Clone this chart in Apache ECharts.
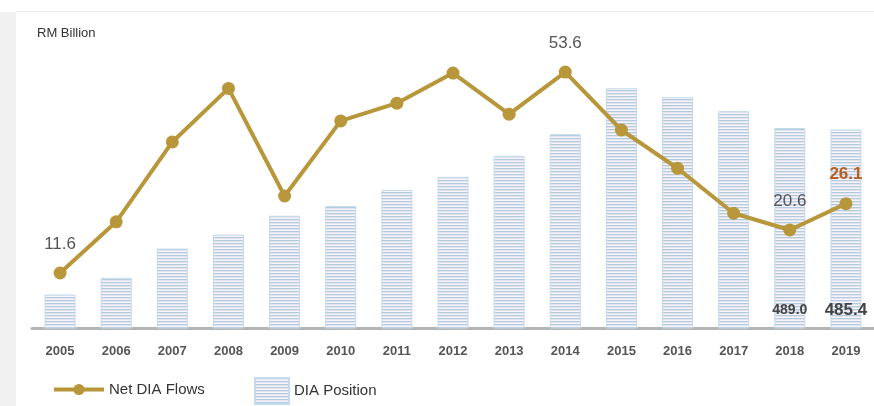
<!DOCTYPE html>
<html>
<head>
<meta charset="utf-8">
<script src="https://cdn.jsdelivr.net/npm/echarts@6/dist/echarts.min.js"></script>
<style>
  html, body { margin: 0; padding: 0; background: #fff; }
  #chart { width: 874px; height: 406px; }
</style>
</head>
<body>
<div id="chart"></div>
<script>
var years = ['2005', '2006', '2007', '2008', '2009', '2010', '2011', '2012', '2013', '2014', '2015', '2016', '2017', '2018', '2019'];
var netFlows = [11.6, 22.3, 39.0, 50.2, 27.7, 43.4, 47.1, 53.4, 44.8, 53.6, 41.5, 33.5, 24.1, 20.6, 26.1];
var position = [83, 124, 195, 229, 275, 299, 338, 370, 421, 474, 586, 564, 530, 489.0, 485.4];

// striped fill for the bars
function stripes() {
    var c = document.createElement('canvas');
    c.width = 4; c.height = 3;
    var ctx = c.getContext('2d');
    ctx.fillStyle = '#b3cbdf'; ctx.fillRect(0, 0, 4, 1);
    ctx.fillStyle = '#e3e4f0'; ctx.fillRect(0, 1, 4, 1);
    ctx.fillStyle = '#f7f5fa'; ctx.fillRect(0, 2, 4, 1);
    return c;
}

var lineLabelIdx = [0, 9, 13];
var lineData = netFlows.map(function (v, i) {
    var item = { value: v };
    if (lineLabelIdx.indexOf(i) >= 0) {
        item.label = { show: true };
    } else if (i === netFlows.length - 1) {
        item.label = { show: true, color: '#b85f22', fontWeight: 'bold', fontSize: 17 };
    }
    return item;
});
var barData = position.map(function (v, i) {
    var item = { value: v };
    if (i === position.length - 2) {
        item.label = { show: true, fontSize: 14, distance: 11 };
    } else if (i === position.length - 1) {
        item.label = { show: true, fontSize: 17, distance: 10 };
    }
    return item;
});

var myChart = echarts.init(document.getElementById('chart'));
var pattern = { image: stripes(), repeat: 'repeat' };
var option = {
    animation: false,
    graphic: [
        { type: 'rect', left: 0, top: 12, shape: { width: 16, height: 394 }, style: { fill: '#f1f1f1' }, z: -10 },
        { type: 'rect', left: 16, top: 11, shape: { width: 858, height: 1 }, style: { fill: '#ececec' }, z: -10 },
        { type: 'text', left: 37, top: 27, style: { text: 'RM Billion', fill: '#333', font: '13px Arial' } }
    ],
    grid: { left: 32, right: 0, top: 41.5, bottom: 77.5 },
    legend: [
        {
            data: ['Net DIA Flows'],
            left: 47, top: 377,
            itemWidth: 50, itemHeight: 14, itemGap: 8,
            lineStyle: { width: 4 },
            textStyle: { fontSize: 15, color: '#333', fontFamily: 'Arial' }
        },
        {
            data: [{ name: 'DIA Position', icon: 'rect' }],
            left: 249, top: 372,
            itemWidth: 34, itemHeight: 26, itemGap: 14,
            textStyle: { fontSize: 15, color: '#333', fontFamily: 'Arial' }
        }
    ],
    xAxis: {
        type: 'category',
        data: years,
        axisLine: { lineStyle: { color: '#b5b5b5', width: 3 } },
        axisTick: { show: false },
        axisLabel: { color: '#555', fontSize: 13, fontWeight: 'bold', fontFamily: 'Arial', margin: 16 }
    },
    yAxis: [
        { type: 'value', min: 0, max: 700, show: false, splitLine: { show: false } },
        { type: 'value', min: 0, max: 60, show: false, splitLine: { show: false } }
    ],
    series: [
        {
            name: 'DIA Position',
            type: 'bar',
            yAxisIndex: 0,
            barWidth: 31,
            data: barData,
            itemStyle: { color: pattern, borderColor: '#c4dbea', borderWidth: 1 },
            label: {
                position: 'insideBottom', color: '#444', fontWeight: 'bold', fontFamily: 'Arial',
                formatter: function (p) { return p.value.toFixed(1); }
            }
        },
        {
            name: 'Net DIA Flows',
            type: 'line',
            yAxisIndex: 1,
            data: lineData,
            symbol: 'circle',
            symbolSize: 13,
            lineStyle: { color: '#b8963a', width: 4 },
            itemStyle: { color: '#b8963a' },
            label: { position: 'top', distance: 14, color: '#555', fontSize: 17, fontFamily: 'Arial' },
            z: 5
        }
    ]
};
myChart.setOption(option);
</script>
</body>
</html>
